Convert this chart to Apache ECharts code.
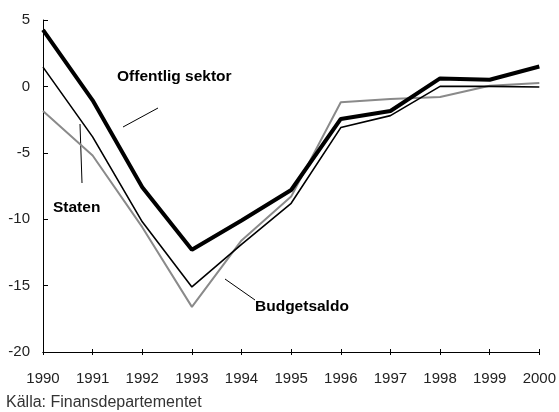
<!DOCTYPE html>
<html><head><meta charset="utf-8">
<script src="https://cdn.jsdelivr.net/npm/echarts@6/dist/echarts.min.js"></script>
<style>html,body{margin:0;padding:0;background:#fff}#c{width:559px;height:412px}</style>
</head><body><div id="c"></div>
<script>
const years = ['1990','1991','1992','1993','1994','1995','1996','1997','1998','1999','2000'];
const offentligSektor = [4.25, -1.05, -7.6, -12.3, -10.1, -7.8, -2.45, -1.85, 0.6, 0.5, 1.5];
const staten = [1.45, -3.8, -10.2, -15.1, -11.9, -8.8, -3.1, -2.2, 0.0, 0.0, -0.05];
const budgetsaldo = [-1.85, -5.2, -10.6, -16.6, -11.6, -8.3, -1.2, -0.95, -0.8, 0.05, 0.25];
const yTicks = [-20, 5, 5];

const font = 'Liberation Sans, Arial, sans-serif';
const chart = echarts.init(document.getElementById('c'));
const baseX = {
  type: 'category', data: years, boundaryGap: false, position: 'bottom',
  axisLine: {onZero: false, lineStyle: {color: '#000', width: 1}},
  axisLabel: {color: '#222', fontSize: 15, fontFamily: font, margin: 19},
  splitLine: {show: false}
};
chart.setOption({
  animation: false,
  grid: {left: 43, right: 17, top: 20, bottom: 60},
  xAxis: [
    Object.assign({}, baseX, {axisTick: {inside: true, length: 3, lineStyle: {color: '#000'}}}),
    Object.assign({}, baseX, {axisLabel: {show: false}, axisTick: {inside: false, length: 3, lineStyle: {color: '#000'}}})
  ],
  yAxis: {
    type: 'value', min: yTicks[0], max: yTicks[1], interval: yTicks[2],
    axisLine: {show: true, lineStyle: {color: '#000', width: 1}},
    axisTick: {show: true, inside: true, length: 5, lineStyle: {color: '#000'}},
    axisLabel: {color: '#222', fontSize: 15, fontFamily: font, margin: 13},
    splitLine: {show: false}
  },
  series: [
    {name: 'Budgetsaldo', type: 'line', data: budgetsaldo, symbol: 'none', lineStyle: {color: '#8a8a8a', width: 2}, z: 2},
    {name: 'Staten', type: 'line', data: staten, symbol: 'none', lineStyle: {color: '#000', width: 1.6}, z: 3},
    {name: 'Offentlig sektor', type: 'line', data: offentligSektor, symbol: 'none', lineStyle: {color: '#000', width: 4}, z: 4}
  ],
  graphic: [
    {type: 'text', left: 117, top: 69, style: {text: 'Offentlig sektor', font: 'bold 15.5px ' + font, fill: '#000'}},
    {type: 'line', shape: {x1: 123, y1: 127, x2: 158, y2: 108}, style: {stroke: '#000', lineWidth: 1}},
    {type: 'text', left: 53, top: 200, style: {text: 'Staten', font: 'bold 15.5px ' + font, fill: '#000'}},
    {type: 'line', shape: {x1: 80, y1: 124, x2: 82, y2: 183}, style: {stroke: '#000', lineWidth: 1}},
    {type: 'text', left: 255, top: 299, style: {text: 'Budgetsaldo', font: 'bold 15.5px ' + font, fill: '#000'}},
    {type: 'line', shape: {x1: 225, y1: 279, x2: 255, y2: 300}, style: {stroke: '#000', lineWidth: 1}},
    {type: 'text', left: 6, top: 395, style: {text: 'Källa: Finansdepartementet', font: '16px ' + font, fill: '#333'}}
  ]
});
</script></body></html>
